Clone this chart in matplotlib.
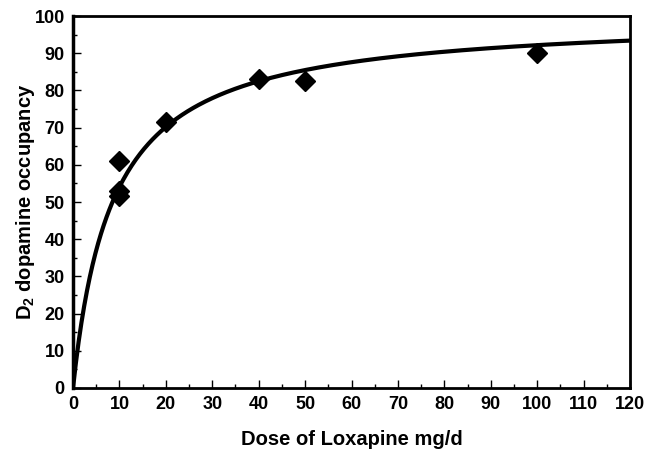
import numpy as np
import matplotlib
matplotlib.use("Agg")
import matplotlib.pyplot as plt
from matplotlib.ticker import MultipleLocator

plt.rcParams["font.family"] = ["Liberation Sans", "DejaVu Sans"]
plt.rcParams["font.weight"] = "bold"
plt.rcParams["mathtext.fontset"] = "custom"
plt.rcParams["mathtext.rm"] = "Liberation Sans:bold"
plt.rcParams["mathtext.default"] = "rm"

# observed occupancy per dose
dose = [10, 10, 10, 20, 40, 50, 100]
occupancy = [61, 53, 51.5, 71.5, 83, 82.5, 90]

# fitted hyperbola parameters (Emax, ED50)
emax = 100.0
ed50 = 8.5

fig = plt.figure(figsize=(6.48, 4.51), dpi=100)
ax = fig.add_axes([0.1127, 0.1397, 0.8596, 0.8248])

d = np.linspace(0, 120, 400)
ax.plot(d, emax * d / (d + ed50), color="black", lw=3, zorder=2)
ax.plot(dose, occupancy, "D", color="black", markersize=10, zorder=3)

ax.set_xlim(0, 120)
ax.set_ylim(0, 100)
ax.xaxis.set_major_locator(MultipleLocator(10))
ax.xaxis.set_minor_locator(MultipleLocator(5))
ax.yaxis.set_major_locator(MultipleLocator(10))
ax.yaxis.set_minor_locator(MultipleLocator(5))
ax.tick_params(which="both", direction="in", top=False, right=False,
               labelsize=13, width=1)
ax.tick_params(which="major", length=6, pad=6)
ax.tick_params(which="minor", length=3)
for s in ax.spines.values():
    s.set_linewidth(2)
ax.spines["left"].set_linewidth(2.5)

ax.set_xlabel("Dose of Loxapine mg/d", fontsize=14.5, fontweight="bold", labelpad=12)
ax.set_ylabel("D$_2$ dopamine occupancy", fontsize=14.5, fontweight="bold", labelpad=-2)

fig.savefig("out.png", dpi=100)
